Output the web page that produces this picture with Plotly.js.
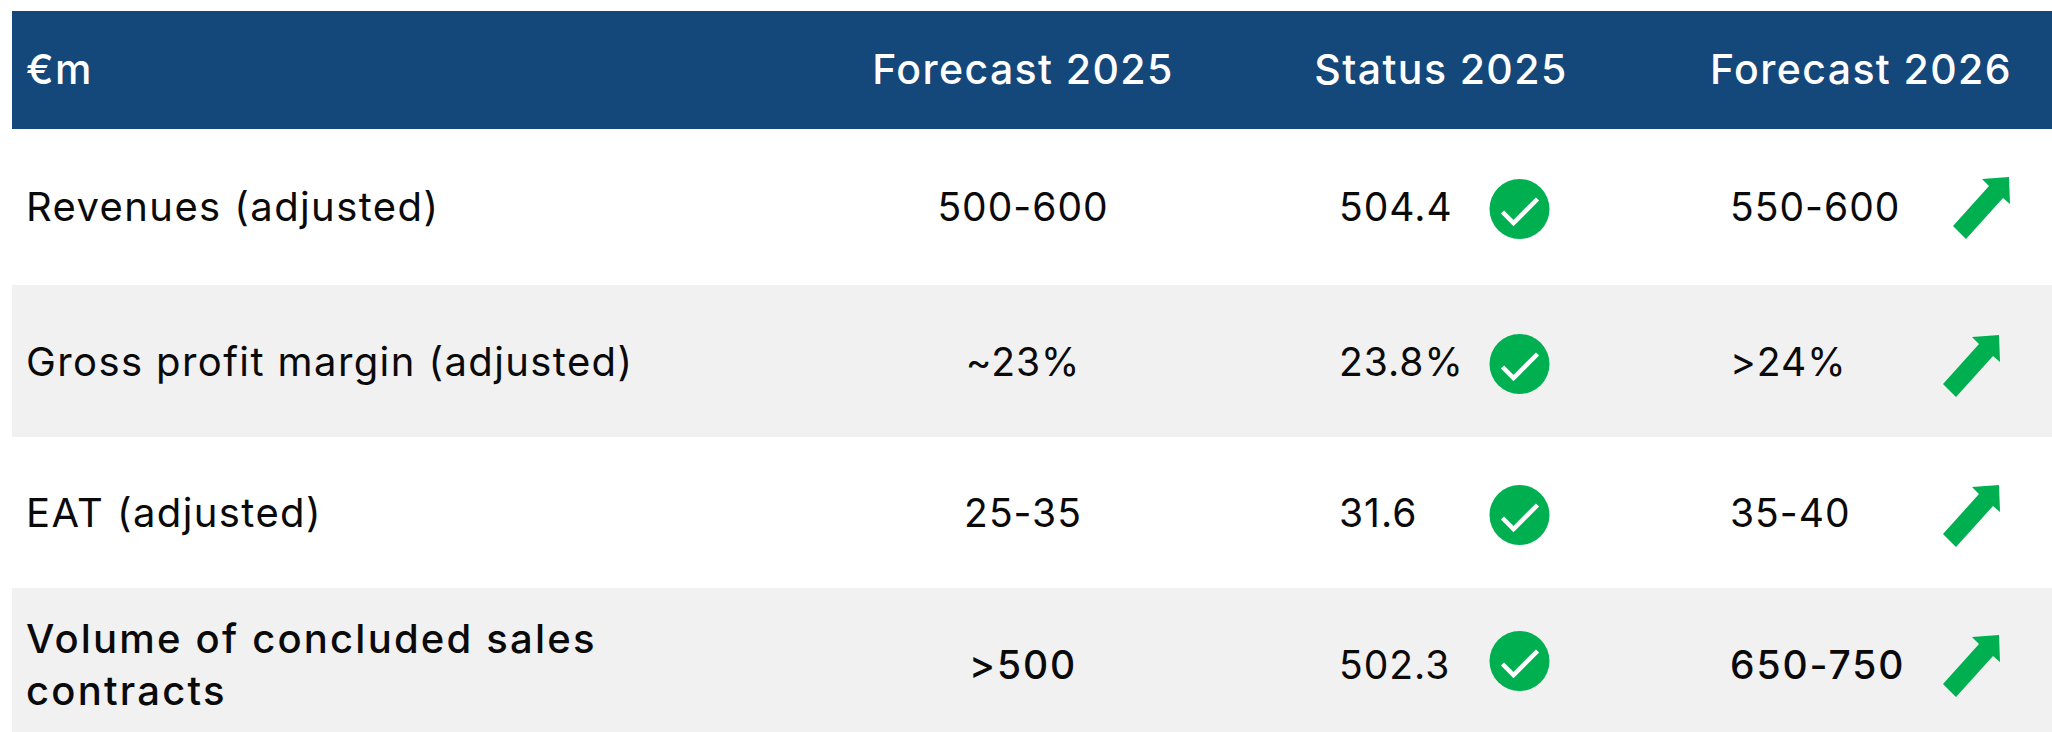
<!DOCTYPE html>
<html>
<head>
<meta charset="utf-8">
<script src="https://cdn.plot.ly/plotly-3.0.1.min.js"></script>
<style>
html,body{margin:0;padding:0;background:#fff}
#c{width:2052px;height:732px}
</style>
</head>
<body>
<div id="c"></div>
<script>
const headers = ["€m", "Forecast 2025", "Status 2025", "Forecast 2026"];
const categories = ["Revenues (adjusted)", "Gross profit margin (adjusted)", "EAT (adjusted)", "Volume of concluded sales<br>contracts"];
const forecast2025 = ["500-600", "~23%", "25-35", ">500"];
const status2025 = ["504.4", "23.8%", "31.6", "502.3"];
const forecast2026 = ["550-600", ">24%", "35-40", "650-750"];
const emphasis = [false, false, false, true];

// layout
const W = 2052, H = 732, FONT = "Inter, 'Open Sans', sans-serif";
const HEAD_SIZE = 41, LABEL_SIZE = 40, NUM_SIZE = 39;
const NAVY = "#14477a", GREY = "#f1f1f1", GREEN = "#00b050", INK = "#0a0a0a";
const rowY = [211, 366, 517, 669], headY = 74;
const labelX = 26, col1X = 1023, col2X = 1339, col3X = 1730, head2X = 1441, head3X = 1861;
const checkX = 1519.5, checkY = [209, 364, 515, 661], R = 30;
const arrowTip = [[2009, 177], [1999, 335], [1999, 485], [1999, 635]];
const arrowOutline = [[0,0],[-27,2],[-20,9],[-56,49],[-43,62],[-6,21],[1,27]];
const tickOutline = [[-17,3],[-6,14],[18,-10]];

const weights = emphasis.map(e => e ? 500 : 400);
const textTrace = (x, y, text, pos, color, weight, size) => ({
  type: "scatter", mode: "text", x, y, text, textposition: pos, cliponaxis: false,
  textfont: {family: FONT, size, color, weight}, hoverinfo: "skip", showlegend: false
});

const traces = [
  textTrace([labelX], [headY], [headers[0]], "middle right", "#ffffff", 500, HEAD_SIZE),
  textTrace([col1X, head2X, head3X], [headY, headY, headY], headers.slice(1), "middle center", "#ffffff", 500, HEAD_SIZE),
  textTrace(rowY.map(() => labelX), rowY, categories, "middle right", INK, weights, LABEL_SIZE),
  textTrace(rowY.map(() => col1X), rowY, forecast2025, "middle center", INK, weights, NUM_SIZE),
  textTrace(rowY.map(() => col2X), rowY, status2025, "middle right", INK, 400, NUM_SIZE),
  textTrace(rowY.map(() => col3X), rowY, forecast2026, "middle right", INK, weights, NUM_SIZE),
  {type: "scatter", mode: "markers", x: checkY.map(() => checkX), y: checkY,
   marker: {symbol: "circle", size: 2 * R, color: GREEN, line: {width: 0}}, hoverinfo: "skip", showlegend: false}
];
checkY.forEach(cy => traces.push({
  type: "scatter", mode: "lines",
  x: tickOutline.map(p => checkX + p[0]), y: tickOutline.map(p => cy + p[1]),
  line: {color: "#ffffff", width: 4.5}, hoverinfo: "skip", showlegend: false
}));

const band = (x0, y0, y1, color) => ({type: "rect", layer: "below", xref: "x", yref: "y", x0, x1: W, y0, y1, fillcolor: color, line: {width: 0}});
const shapes = [
  band(12, 11, 129, NAVY),
  band(12, 285, 437, GREY),
  band(12, 588, 732, GREY)
];
arrowTip.forEach(t => shapes.push({
  type: "path", xref: "x", yref: "y", fillcolor: GREEN, line: {width: 0},
  path: arrowOutline.map((p, i) => (i ? "L" : "M") + (t[0] + p[0]) + " " + (t[1] + p[1])).join(" ") + " Z"
}));

Plotly.newPlot("c", traces, {
  width: W, height: H, margin: {l: 0, r: 0, t: 0, b: 0},
  paper_bgcolor: "#ffffff", plot_bgcolor: "#ffffff", showlegend: false,
  xaxis: {range: [0, W], visible: false, fixedrange: true},
  yaxis: {range: [H, 0], visible: false, fixedrange: true},
  shapes
}, {displayModeBar: false, staticPlot: true}).then(() => {
  // tracking of the original typeface, which the installed fonts do not reproduce
  document.querySelectorAll("#c .scatterlayer text").forEach(t => {
    const size = parseFloat(t.style.fontSize), heavy = t.style.fontWeight === "500";
    let spacing = 1;
    if (size === HEAD_SIZE) spacing = 1.4;
    else if (size === LABEL_SIZE) spacing = heavy ? 2.2 : 1.4;
    else if (heavy) spacing = 1.9;
    t.style.letterSpacing = spacing + "px";
  });
});
</script>
</body>
</html>
